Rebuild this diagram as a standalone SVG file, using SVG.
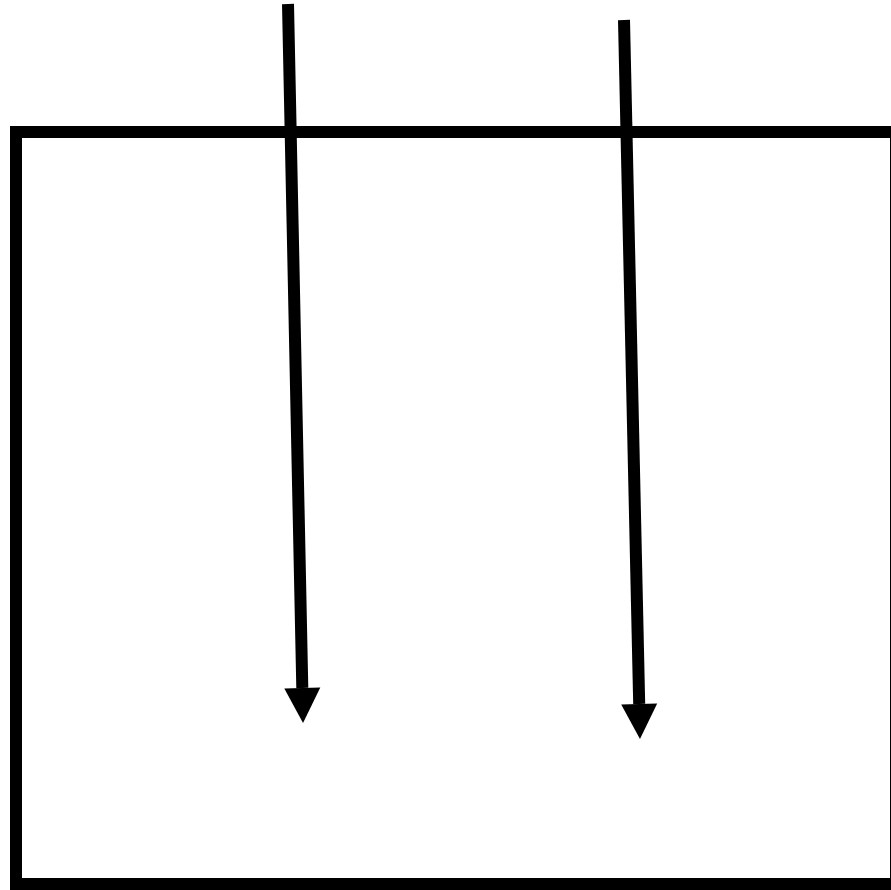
<svg xmlns="http://www.w3.org/2000/svg" width="891" height="890" viewBox="0 0 891 890">
  <style>
    .frame { fill: none; stroke: #000; stroke-width: 12; }
    .conn { stroke: #000; stroke-width: 12; fill: none; marker-end: url(#head); }
  </style>
  <defs>
    <marker id="head" markerUnits="userSpaceOnUse" markerWidth="40" markerHeight="40" viewBox="0 -20 40 40" refX="0" refY="0" orient="auto" overflow="visible">
      <path d="M0,-18 L35,0 L0,18 Z" fill="#000"/>
    </marker>
  </defs>
  <rect width="891" height="890" fill="#fff"/>
  <g id="box">
    <rect class="frame" x="16" y="132" width="880" height="752"/>
  </g>
  <g id="connectors">
    <line class="conn" x1="288" y1="4" x2="302.3" y2="688"/>
    <line class="conn" x1="624" y1="20" x2="639.2" y2="704"/>
  </g>
</svg>
